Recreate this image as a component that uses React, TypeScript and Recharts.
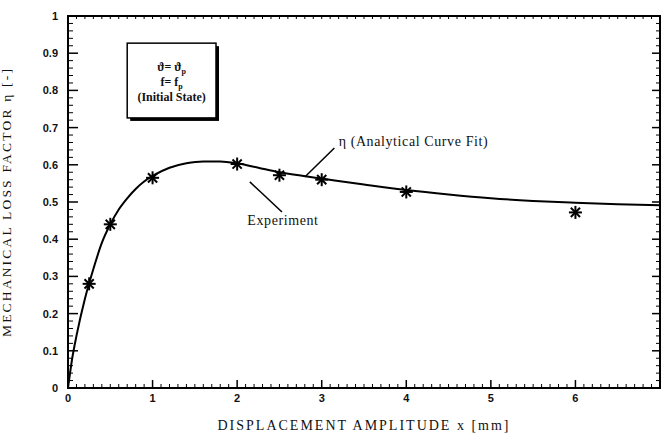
import {
  ComposedChart,
  Line,
  Scatter,
  XAxis,
  YAxis,
  ReferenceArea,
  ReferenceLine,
  ReferenceDot,
} from 'recharts'

// analytical curve fit
const fitX = [0, 0.05, 0.1, 0.2, 0.3, 0.4, 0.5, 0.6, 0.7, 0.8, 0.9, 1.0, 1.2, 1.4, 1.6, 1.8, 2.0, 2.25, 2.5, 2.75, 3.0, 3.5, 4.0, 4.5, 5.0, 5.5, 6.0, 6.5, 7.0]
const fitEta = [0, 0.08, 0.14, 0.24, 0.32, 0.39, 0.44, 0.48, 0.51, 0.535, 0.555, 0.57, 0.592, 0.604, 0.609, 0.609, 0.604, 0.592, 0.58, 0.571, 0.563, 0.547, 0.532, 0.52, 0.51, 0.503, 0.498, 0.494, 0.491]

// experiment points
const expX = [0.25, 0.5, 1, 2, 2.5, 3, 4, 6]
const expEta = [0.28, 0.44, 0.565, 0.602, 0.572, 0.56, 0.527, 0.472]

const xLabels = [0, 1, 2, 3, 4, 5, 6]
const xMajor = [0, 1, 2, 3, 4, 5, 6, 7]
const yMajor = [0, 0.1, 0.2, 0.3, 0.4, 0.5, 0.6, 0.7, 0.8, 0.9, 1]
const boxLines = ['ϑ= ϑ', 'f= f', '(Initial State)']

// minor tick positions
const xMinor = Array.from({ length: 71 }, (_, i) => i / 10)
const yMinor = Array.from({ length: 51 }, (_, i) => i / 50)

const fitData = fitX.map((x, i) => ({ x, eta: fitEta[i] }))
const expData = expX.map((x, i) => ({ x, eta: expEta[i] }))

const W = 662
const H = 438
const M = { top: 16, right: 2, bottom: 0, left: 0 }
const Y_W = 68
const X_H = 50
const PLOT_W = W - M.left - M.right - Y_W
const PLOT_H = H - M.top - M.bottom - X_H

const tickFont = { fontFamily: 'Liberation Sans', fontSize: 11, fontWeight: 700, fill: '#111' }
const serif = 'Liberation Serif'
const isIn = (arr: number[], v: number) => arr.some((m) => Math.abs(m - v) < 1e-6)

// bottom ticks point inward, mirrored small ticks along the top frame
const XTick = (props: any) => {
  const { x, y, payload } = props
  const v = payload.value
  const axisY = y - 6
  const major = isIn(xMajor, v)
  return (
    <g stroke="#000">
      <line x1={x} x2={x} y1={axisY} y2={axisY - (major ? 8 : 4)} strokeWidth={major ? 1.5 : 1} />
      <line x1={x} x2={x} y1={axisY - PLOT_H} y2={axisY - PLOT_H + 3} />
      {isIn(xLabels, v) && (
        <text x={x} y={y} dy="0.71em" textAnchor="middle" stroke="none" {...tickFont}>
          {Math.round(v)}
        </text>
      )}
    </g>
  )
}

// left ticks inward, plus right frame ticks
const YTick = (props: any) => {
  const { x, y, payload } = props
  const v = payload.value
  const axisX = x + 10
  const major = isIn(yMajor, v)
  const rightX = axisX + PLOT_W
  return (
    <g stroke="#000">
      <line x1={axisX} x2={axisX + (major ? 10 : 5)} y1={y} y2={y} strokeWidth={major ? 1.5 : 1} />
      <line x1={rightX} x2={rightX - (major ? 8 : 4)} y1={y} y2={y} strokeWidth={major ? 1.5 : 1} />
      {major && (
        <text x={x} y={y} dy="0.355em" textAnchor="end" stroke="none" {...tickFont}>
          {Number(v.toFixed(1))}
        </text>
      )}
    </g>
  )
}

const Asterisk = (props: any) => {
  const { cx, cy } = props
  const r = 6.5
  const d = 4.6
  return (
    <g stroke="#000" strokeWidth={2}>
      <line x1={cx - r} y1={cy} x2={cx + r} y2={cy} />
      <line x1={cx} y1={cy - r} x2={cx} y2={cy + r} />
      <line x1={cx - d} y1={cy - d} x2={cx + d} y2={cy + d} />
      <line x1={cx - d} y1={cy + d} x2={cx + d} y2={cy - d} />
    </g>
  )
}

const NoteBox = (props: any) => {
  const { x, y, width, height } = props
  const mid = x + width / 2
  return (
    <g>
      <rect x={x + 3} y={y + 3} width={width} height={height} fill="#000" />
      <rect x={x} y={y} width={width} height={height} fill="#fff" stroke="#000" strokeWidth={1.5} />
      <text fontFamily={serif} fontSize={12} fontWeight={700} fill="#111" textAnchor="middle">
        <tspan x={mid} y={y + 28}>
          {boxLines[0]}
          <tspan fontSize={8} dy={3}>p</tspan>
        </tspan>
        <tspan x={mid} y={y + 43}>
          {boxLines[1]}
          <tspan fontSize={8} dy={3}>p</tspan>
        </tspan>
        <tspan x={mid} y={y + 58}>{boxLines[2]}</tspan>
      </text>
    </g>
  )
}

const Frame = (props: any) => {
  const { x, y, width, height } = props
  return <rect x={x} y={y} width={width} height={height} fill="none" stroke="#000" strokeWidth={2} />
}

const note = (value: string) => (props: any) => (
  <text
    x={props.cx}
    y={props.cy}
    dominantBaseline="middle"
    fontFamily={serif}
    fontSize={14}
    letterSpacing={0.6}
    fill="#111"
  >
    {value}
  </text>
)

export default function App() {
  return (
    <div style={{ position: 'absolute', left: 0, top: 0, background: '#fff' }}>
      <ComposedChart width={W} height={H} margin={M}>
        <XAxis
          xAxisId="x"
          type="number"
          dataKey="x"
          domain={[0, 7]}
          ticks={xMinor}
          interval={0}
          allowDataOverflow
          height={X_H}
          tickSize={0}
          tickMargin={6}
          tickLine={false}
          axisLine={{ stroke: '#000', strokeWidth: 2 }}
          tick={XTick}
          label={{
            value: 'DISPLACEMENT AMPLITUDE x [mm]',
            position: 'insideBottom',
            offset: 8,
            style: { fontFamily: serif, fontSize: 14, letterSpacing: 2, fill: '#111' },
          }}
        />
        <YAxis
          yAxisId="y"
          type="number"
          domain={[0, 1]}
          ticks={yMinor}
          interval={0}
          allowDataOverflow
          width={Y_W}
          tickSize={0}
          tickMargin={10}
          tickLine={false}
          axisLine={{ stroke: '#000', strokeWidth: 2 }}
          tick={YTick}
          label={{
            value: 'MECHANICAL LOSS FACTOR η [-]',
            angle: -90,
            position: 'insideLeft',
            offset: 6,
            style: { textAnchor: 'middle', fontFamily: serif, fontSize: 13.5, letterSpacing: 2.2, fill: '#111' },
          }}
        />

        {/* plot frame */}
        <ReferenceArea xAxisId="x" yAxisId="y" x1={0} x2={7} y1={0} y2={1} shape={Frame} />

        <ReferenceArea xAxisId="x" yAxisId="y" x1={0.7} x2={1.75} y1={0.726} y2={0.927} shape={NoteBox} />

        <ReferenceLine
          xAxisId="x"
          yAxisId="y"
          segment={[{ x: 3.15, y: 0.645 }, { x: 2.8, y: 0.567 }]}
          stroke="#000"
          strokeWidth={1.5}
        />
        <ReferenceLine
          xAxisId="x"
          yAxisId="y"
          segment={[{ x: 2.15, y: 0.554 }, { x: 2.53, y: 0.473 }]}
          stroke="#000"
          strokeWidth={1.5}
        />
        <ReferenceDot xAxisId="x" yAxisId="y" x={3.2} y={0.659} r={0} shape={note('η  (Analytical Curve Fit)')} />
        <ReferenceDot xAxisId="x" yAxisId="y" x={2.12} y={0.446} r={0} shape={note('Experiment')} />

        <Line
          xAxisId="x"
          yAxisId="y"
          data={fitData}
          dataKey="eta"
          type="monotone"
          stroke="#000"
          strokeWidth={2}
          dot={false}
          isAnimationActive={false}
        />
        <Scatter
          xAxisId="x"
          yAxisId="y"
          data={expData}
          dataKey="eta"
          shape={Asterisk}
          isAnimationActive={false}
        />
      </ComposedChart>
    </div>
  )
}
